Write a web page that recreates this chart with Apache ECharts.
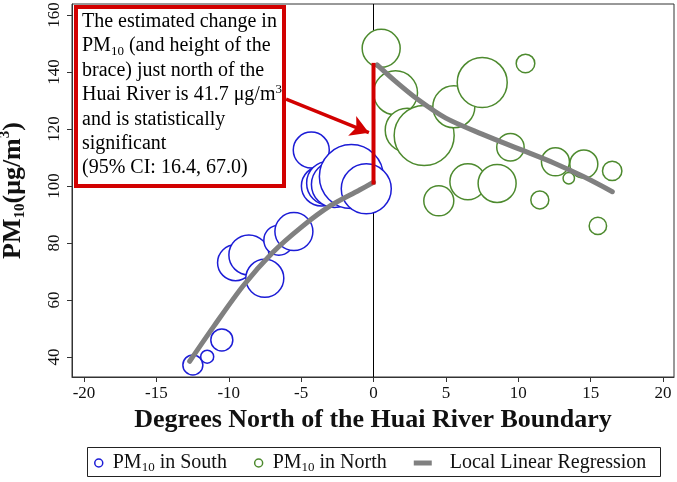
<!DOCTYPE html>
<html><head><meta charset="utf-8">
<script src="https://cdn.jsdelivr.net/npm/echarts@6/dist/echarts.min.js"></script>
<style>html,body{margin:0;padding:0;background:#fff}#c{width:677px;height:482px}</style>
</head><body><div id="c"></div>
<script>
// ---- data ----
const xTicks = [-20, -15, -10, -5, 0, 5, 10, 15, 20];
const yTicks = [40, 60, 80, 100, 120, 140, 160];
const xRange = [-20.83, 20.76];
const yRange = [32.98, 163.86];

// South stations: degrees north, PM10, relative bubble weight
const xSouth = [-12.48, -11.49, -10.48, -9.53, -8.61, -7.51, -6.54, -5.5, -4.3, -3.6, -3.1, -2.7, -1.53, -0.5];
const ySouth = [37.2, 40.1, 46.0, 73.1, 75.8, 67.6, 81.0, 84.0, 112.6, 100.0, 101.0, 100.5, 103.3, 99.0];
const wSouth = [10, 6.5, 11, 18, 20, 19, 15, 19, 18, 20, 22, 23, 32, 25];

// North stations
const xNorth = [0.53, 1.52, 2.33, 3.5, 5.55, 7.51, 9.46, 12.57, 6.52, 8.54, 4.51, 11.49, 10.5, 14.53, 13.49, 16.49, 15.5];
const yNorth = [148.3, 132.7, 119.6, 117.7, 127.8, 136.3, 113.6, 108.5, 101.5, 100.9, 94.8, 95.1, 143.0, 107.7, 102.7, 105.3, 86.0];
const wNorth = [19, 22, 22, 30, 21, 25, 13.7, 14, 18, 19, 15, 9, 9.3, 14, 5.7, 9.7, 8.7];

// Local linear regression fits
const xFitSouth = [-12.7, -11, -9, -7, -5, -3, -1, 0];
const yFitSouth = [38.5, 51, 65, 76.5, 85.5, 93, 98.5, 101.3];
const xFitNorth = [0.25, 1.5, 3, 5, 7.5, 10, 12.5, 14.5, 16.5];
const yFitNorth = [142.5, 136.8, 130.6, 123.8, 118.2, 113.1, 108, 103.3, 98];

// Discontinuity brace and arrow
const braceY = [101.2, 142.5];
const arrowFrom = [-6.04, 130.5];
const arrowTo = [-0.32, 118.7];

const noteLines = [
  '{t|The estimated change in}',
  '{t|PM}{sub|10}{t| (and height of the}',
  '{t|brace) just north of the}',
  '{t|Huai River is 41.7 \u03bcg/m}{sup|3}',
  '{t|and is statistically}',
  '{t|significant}',
  '{t|(95% CI: 16.4, 67.0)}'
];

// ---- styling ----
const FONT = 'Liberation Serif';
const BLUE = '#1c1cd6', GREEN = '#4d8a2e', GRAY = '#808080', RED = '#d20000', AX = '#333';

const zip3 = (a, b, c) => a.map((v, i) => [v, b[i], c[i]]);
const zip2 = (a, b) => a.map((v, i) => [v, b[i]]);

const chart = echarts.init(document.getElementById('c'), null, {renderer: 'canvas'});
const option = {
  animation: false,
  backgroundColor: '#fff',
  textStyle: {fontFamily: FONT},
  grid: {left: 72, right: 3, top: 4, bottom: 105, show: true, borderColor: AX, borderWidth: 1,
         backgroundColor: '#fff', containLabel: false, outerBoundsMode: 'none'},
  xAxis: {
    type: 'value', min: xRange[0], max: xRange[1], splitLine: {show: false},
    axisLine: {onZero: false, lineStyle: {color: AX, width: 1}},
    axisTick: {customValues: xTicks, length: 5, lineStyle: {color: AX}},
    axisLabel: {customValues: xTicks, fontSize: 17, color: '#111', margin: 8, fontFamily: FONT},
    name: 'Degrees North of the Huai River Boundary', nameLocation: 'middle', nameGap: 27,
    nameTextStyle: {fontFamily: FONT, fontWeight: 'bold', fontSize: 26, color: '#111'}
  },
  yAxis: {
    type: 'value', min: yRange[0], max: yRange[1], splitLine: {show: false},
    axisLine: {onZero: false, lineStyle: {color: AX, width: 1}},
    axisTick: {customValues: yTicks, length: 5, lineStyle: {color: AX}},
    axisLabel: {customValues: yTicks, fontSize: 17, color: '#111', margin: 9, rotate: 90, fontFamily: FONT},
    name: '{a|PM}{s|10}{a|(\u03bcg/m}{p|3}{a|)}', nameLocation: 'middle', nameRotate: 90, nameGap: 44,
    nameTextStyle: {rich: {
      a: {fontFamily: FONT, fontWeight: 'bold', fontSize: 26, color: '#111', lineHeight: 30},
      s: {fontFamily: FONT, fontWeight: 'bold', fontSize: 15, color: '#111', lineHeight: 17, verticalAlign: 'bottom'},
      p: {fontFamily: FONT, fontWeight: 'bold', fontSize: 15, color: '#111', lineHeight: 25, verticalAlign: 'top'}
    }}
  },
  legend: {
    left: 94, top: 453, itemGap: 27, itemWidth: 18, itemHeight: 8, padding: 0,
    data: [
      {name: 'PM10 in South', icon: 'circle', itemStyle: {color: '#fff', borderColor: BLUE, borderWidth: 1.5}},
      {name: 'PM10 in North', icon: 'circle', itemStyle: {color: '#fff', borderColor: GREEN, borderWidth: 1.5}},
      {name: 'Local Linear Regression', icon: 'path://M0 0H18V5H0Z', itemStyle: {color: GRAY}}
    ],
    formatter: n => n.indexOf('PM10') === 0 ? '{a|PM}{s|10}{a|' + n.slice(4) + '}' : '{b|' + n + '}',
    textStyle: {rich: {
      a: {fontFamily: FONT, fontSize: 20, color: '#111', lineHeight: 22},
      b: {fontFamily: FONT, fontSize: 20, color: '#111', lineHeight: 22, padding: [0, 0, 0, 13]},
      s: {fontFamily: FONT, fontSize: 13, color: '#111', lineHeight: 14, verticalAlign: 'bottom'}
    }}
  },
  graphic: [
    {type: 'rect', shape: {x: 76, y: 7, width: 208, height: 179}, style: {fill: '#fff', stroke: RED, lineWidth: 4}, z: 50},
    {type: 'text', x: 82, y: 9.5, z: 51, style: {
      text: noteLines.join('\n'),
      rich: {
        t: {fontFamily: FONT, fontSize: 20, color: '#111', lineHeight: 24.4},
        sub: {fontFamily: FONT, fontSize: 13, color: '#111', lineHeight: 14, verticalAlign: 'bottom'},
        sup: {fontFamily: FONT, fontSize: 13, color: '#111', lineHeight: 21, verticalAlign: 'top'}
      }
    }},
    {type: 'rect', shape: {x: 87.5, y: 447.5, width: 573, height: 29}, style: {fill: 'none', stroke: '#222', lineWidth: 1}, z: 50}
  ],
  series: [
    {type: 'line', name: 'zero', data: [[0, yRange[0]], [0, yRange[1]]], symbol: 'none', silent: true,
     lineStyle: {color: '#000', width: 1}, z: 1},
    {type: 'scatter', name: 'PM10 in South', data: zip3(xSouth, ySouth, wSouth), symbolSize: v => 2 * v[2],
     itemStyle: {color: '#fff', borderColor: BLUE, borderWidth: 1.5, opacity: 1}, z: 2},
    {type: 'scatter', name: 'PM10 in North', data: zip3(xNorth, yNorth, wNorth), symbolSize: v => 2 * v[2],
     itemStyle: {color: '#fff', borderColor: GREEN, borderWidth: 1.5, opacity: 1}, z: 2},
    {type: 'line', name: 'Local Linear Regression', data: zip2(xFitSouth, yFitSouth), smooth: 0.3, symbol: 'none',
     lineStyle: {color: GRAY, width: 5, cap: 'round'}, itemStyle: {color: GRAY}, z: 3},
    {type: 'line', name: 'Local Linear Regression', data: zip2(xFitNorth, yFitNorth), smooth: 0.3, symbol: 'none',
     lineStyle: {color: GRAY, width: 5, cap: 'round'}, itemStyle: {color: GRAY}, z: 3},
    {type: 'line', name: 'brace', data: [[0, braceY[0]], [0, braceY[1]]], symbol: 'none', silent: true,
     lineStyle: {color: RED, width: 4, cap: 'square'}, z: 4,
     markLine: {silent: true, symbol: ['none', 'arrow'], symbolSize: [16, 18], label: {show: false},
       lineStyle: {color: RED, width: 3.5, type: 'solid'},
       data: [[{coord: arrowFrom}, {coord: arrowTo}]]}}
  ]
};
chart.setOption(option);
</script></body></html>
